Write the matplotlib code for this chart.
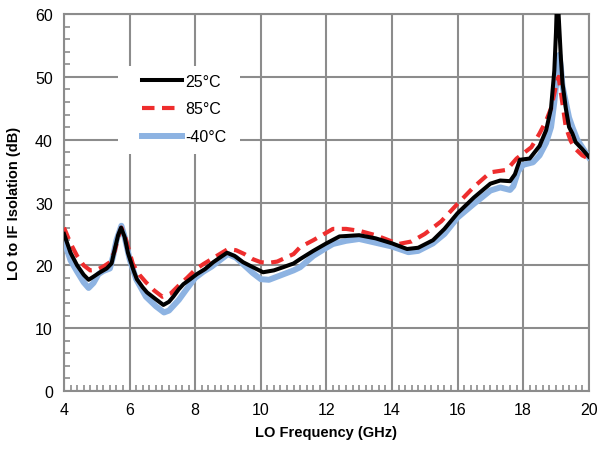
import matplotlib
matplotlib.use("Agg")
import matplotlib.pyplot as plt
from matplotlib.patches import Rectangle
from matplotlib.ticker import MultipleLocator

plt.rcParams["font.family"] = ["Liberation Sans", "DejaVu Sans"]

# LO frequency (GHz) and isolation (dB)
freq_25 = [4.0, 4.2, 4.4, 4.6, 4.75, 4.9, 5.1, 5.3, 5.45, 5.55, 5.65, 5.74, 5.85, 5.95, 6.1,
           6.22, 6.4, 6.53, 6.8, 7.03, 7.2, 7.33, 7.5, 7.64, 7.85, 8.05, 8.3, 8.55, 8.8,
           8.97, 9.2, 9.46, 9.8, 10.07, 10.4, 10.68, 11.0, 11.2, 11.6, 12.0, 12.4, 13.0,
           13.5, 14.0, 14.46, 14.8, 15.25, 15.6, 16.0, 16.5, 17.0, 17.3, 17.6, 17.75,
           17.9, 18.2, 18.5, 18.7, 18.85, 18.95, 19.0, 19.03, 19.08, 19.15, 19.2,
           19.3, 19.4, 19.5, 19.6, 19.8, 20.0]
iso_25 = [25.0, 22.0, 20.0, 18.5, 17.7, 18.2, 18.9, 19.5, 20.3, 22.6, 24.8, 26.0, 24.5, 22.0,
          19.5, 17.8, 16.5, 15.7, 14.6, 13.7, 14.2, 15.0, 16.2, 17.0, 17.8, 18.6, 19.4,
          20.5, 21.4, 22.0, 21.5, 20.5, 19.6, 18.9, 19.2, 19.7, 20.3, 21.0, 22.3, 23.5,
          24.6, 24.8, 24.3, 23.5, 22.6, 22.8, 24.0, 25.8, 28.3, 30.8, 33.0, 33.5, 33.4,
          34.5, 36.8, 37.0, 39.0, 41.5, 45.0, 51.0, 57.0, 62.0, 60.0, 53.0, 49.0, 45.0,
          42.0, 41.0, 39.6, 38.5, 37.3]

freq_85 = [4.0, 4.2, 4.4, 4.6, 4.8, 5.0, 5.2, 5.4, 5.55, 5.65, 5.75, 5.85, 5.95, 6.1, 6.3,
           6.5, 6.75, 7.0, 7.25, 7.5, 7.75, 8.0, 8.25, 8.5, 8.75, 9.0, 9.25, 9.5, 9.75,
           10.0, 10.25, 10.5, 10.75, 11.0, 11.2, 11.6, 12.0, 12.2, 12.6, 13.0, 13.5,
           14.2, 14.6, 15.0, 15.5, 16.0, 16.5, 17.0, 17.5, 17.8, 18.0, 18.25, 18.5, 18.7,
           18.85, 19.0, 19.08, 19.15, 19.3, 19.45, 19.6, 19.8, 20.0]
iso_85 = [26.0, 23.5, 21.5, 20.0, 19.2, 19.3, 19.8, 20.5, 22.3, 24.5, 26.0, 24.8, 23.0, 20.2,
          18.5, 17.3, 16.0, 15.0, 15.5, 16.8, 18.0, 19.3, 20.2, 21.0, 21.8, 22.6, 22.4,
          21.8, 21.0, 20.5, 20.4, 20.6, 21.2, 21.8, 22.9, 24.0, 25.2, 25.8, 25.8, 25.5,
          24.8, 23.4, 23.8, 25.0, 27.0, 29.8, 32.5, 34.8, 35.2, 37.0, 37.8, 38.8, 41.0,
          43.0, 45.0, 48.5, 50.0, 47.5, 42.0, 39.8, 38.5, 37.5, 37.0]

freq_m40 = [4.0, 4.2, 4.4, 4.6, 4.75, 4.9, 5.05, 5.2, 5.4, 5.5, 5.6, 5.75, 5.85, 6.0, 6.2,
            6.5, 6.8, 7.05, 7.2, 7.5, 7.75, 8.0, 8.25, 8.5, 8.75, 9.0, 9.25, 9.5, 9.75,
            10.0, 10.25, 10.5, 10.75, 11.0, 11.2, 11.6, 12.0, 12.2, 12.6, 13.0, 13.5,
            14.0, 14.5, 14.8, 15.25, 15.6, 16.0, 16.5, 17.0, 17.3, 17.6, 17.7, 17.85,
            18.0, 18.3, 18.5, 18.7, 18.85, 18.95, 19.05, 19.1, 19.15, 19.2, 19.3, 19.4,
            19.5, 19.65, 19.8, 20.0]
iso_m40 = [23.9, 20.8, 19.0, 17.3, 16.4, 17.2, 18.6, 19.1, 19.5, 21.5, 24.0, 26.3, 24.5, 21.0,
           17.8, 15.0, 13.5, 12.5, 12.8, 14.5, 16.3, 18.0, 19.0, 19.8, 20.8, 21.8, 21.2,
           20.0, 18.8, 17.8, 17.7, 18.2, 18.7, 19.2, 19.7, 21.5, 22.8, 23.4, 23.9, 24.2,
           23.6, 23.0, 22.1, 22.3, 23.5, 25.0, 27.6, 29.8, 31.9, 32.4, 32.0, 32.6, 35.0,
           36.0, 36.4, 37.5, 39.5, 42.0, 46.0, 51.0, 53.5, 51.5, 48.5, 46.0, 43.5, 42.0,
           40.0, 38.8, 37.2]

fig = plt.figure(figsize=(6.02, 4.52), dpi=100)
ax = fig.add_axes([0.1063, 0.1327, 0.8717, 0.8341])

ax.plot(freq_m40, iso_m40, color="#8db3e2", lw=4.3, label="-40°C", zorder=3)
ax.plot(freq_85, iso_85, color="#ee2d2d", lw=3.0, ls=(0, (3.0, 1.8)), label="85°C", zorder=4)
ax.plot(freq_25, iso_25, color="black", lw=2.9, label="25°C", zorder=5)

ax.set_xlim(4, 20)
ax.set_ylim(0, 60)
ax.xaxis.set_major_locator(MultipleLocator(2))
ax.xaxis.set_minor_locator(MultipleLocator(0.2))
ax.yaxis.set_major_locator(MultipleLocator(10))
ax.yaxis.set_minor_locator(MultipleLocator(2))

grey = "#8c8c8c"
ax.grid(True, which="major", color=grey, lw=1.5)
for s in ax.spines.values():
    s.set_color(grey)
    s.set_linewidth(1.5)
ax.tick_params(which="major", length=0, labelsize=11.5, pad=8, colors="black")
ax.tick_params(which="minor", direction="in", length=4, width=1.2, color=grey)
ax.tick_params(axis="x", which="minor", top=False)
ax.tick_params(axis="y", which="minor", right=False)

ax.set_xlabel("LO Frequency (GHz)", fontsize=10.5, fontweight="bold", labelpad=6)
ax.set_ylabel("LO to IF Isolation (dB)", fontsize=10.5, fontweight="bold", labelpad=10)

# white legend background (Excel style, wider on the left)
ax.add_patch(Rectangle((0.103, 0.629), 0.232, 0.233, transform=ax.transAxes,
                       facecolor="white", edgecolor="none", zorder=2))

handles, labels = ax.get_legend_handles_labels()
order = [2, 1, 0]
leg = ax.legend([handles[i] for i in order], [labels[i] for i in order],
                loc="upper left", bbox_to_anchor=(0.149, 0.842), frameon=False,
                fontsize=11.5, handlelength=2.5, handletextpad=0.2,
                labelspacing=0.8, borderpad=0, borderaxespad=0)
leg.set_zorder(10)

fig.savefig("out.png", dpi=100)
